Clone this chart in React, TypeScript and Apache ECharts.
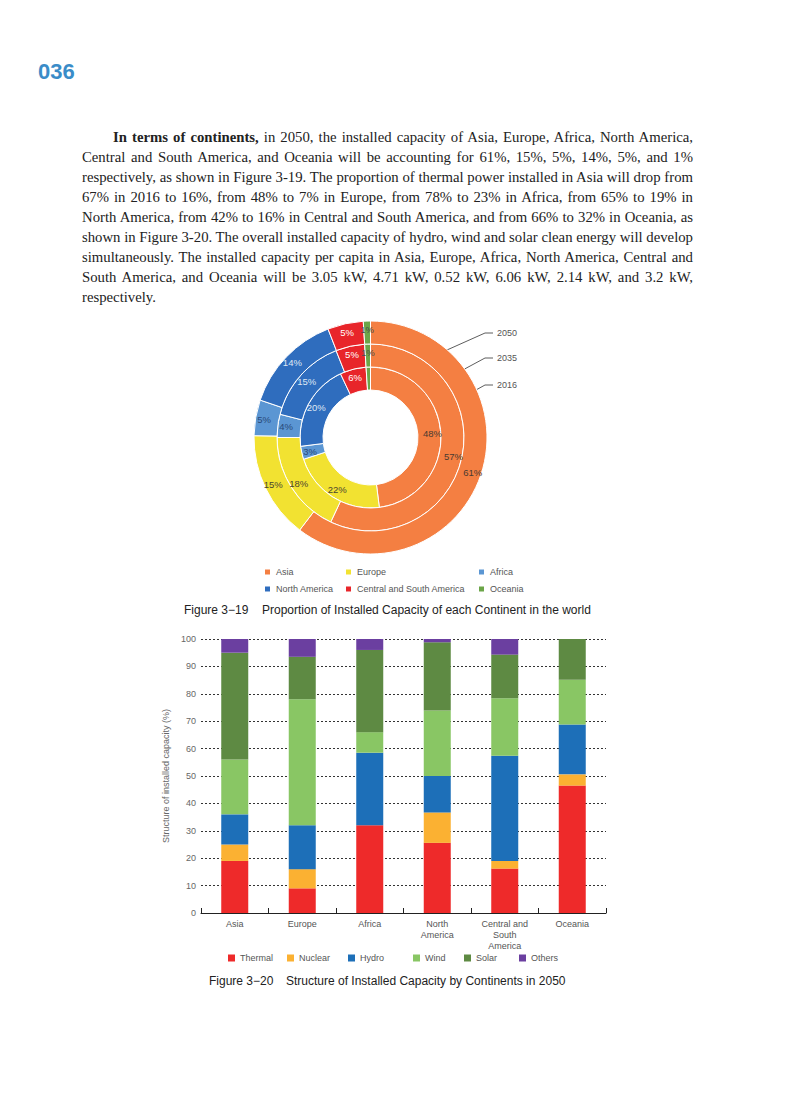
import React, { useEffect, useLayoutEffect, useRef } from "react";
import * as echarts from "echarts";

// ---------- Figure 3-19 data ----------
const continents = ["Asia", "Europe", "Africa", "North America", "Central and South America", "Oceania"];
const continentColors = ["#F47F42", "#F2E231", "#5B96D3", "#2F6DBE", "#E8252A", "#6BA548"];
const continentLabelColors = ["#4a3a30", "#4a4530", "#2a4a78", "#dfe7f4", "#ffffff", "#4a4a4a"];
const share2016 = [48, 22, 3, 20, 6, 1];
const share2035 = [57, 18, 4, 15, 5, 1];
const share2050 = [61, 15, 5, 14, 5, 1];
const ringYears = ["2016", "2035", "2050"];

// ---------- Figure 3-20 data ----------
const barCategories = ["Asia", "Europe", "Africa", "North\nAmerica", "Central and\nSouth\nAmerica", "Oceania"];
const sourceNames = ["Thermal", "Nuclear", "Hydro", "Wind", "Solar", "Others"];
const sourceColors = ["#EE2A2A", "#FBB132", "#1D6FB8", "#89C664", "#5E8A43", "#6B3FA0"];
const thermal = [19, 9, 32, 25.6, 16.2, 46.5];
const nuclear = [6, 7, 0, 11.1, 2.8, 4.1];
const hydro = [11, 16, 26.5, 13.3, 38.4, 18.2];
const wind = [20, 46, 7.5, 23.9, 21, 16.3];
const solar = [39, 15.5, 30, 24.9, 15.9, 14.9];
const others = [5, 6.5, 4, 1.2, 5.7, 0];
const yMin = 0;
const yMax = 100;
const yStep = 10;

// ---------- text ----------
const paragraphLines = [
  " in 2050, the installed capacity of Asia, Europe, Africa, North America,",
  "Central and South America, and Oceania will be accounting for 61%, 15%, 5%, 14%, 5%, and 1%",
  "respectively, as shown in Figure 3-19. The proportion of thermal power installed in Asia will drop from",
  "67% in 2016 to 16%, from 48% to 7% in Europe, from 78% to 23% in Africa, from 65% to 19% in",
  "North America, from 42% to 16% in Central and South America, and from 66% to 32% in Oceania, as",
  "shown in Figure 3-20. The overall installed capacity of hydro, wind and solar clean energy will develop",
  "simultaneously. The installed capacity per capita in Asia, Europe, Africa, North America, Central and",
  "South America, and Oceania will be 3.05 kW, 4.71 kW, 0.52 kW, 6.06 kW, 2.14 kW, and 3.2 kW,",
  "respectively.",
];
const leadBold = "In terms of continents,";

const FONT = "'Liberation Sans', Arial, sans-serif";
const CHART_TOP = 310;

const donutCenter = [370.5, 127.5];
const ringRadii = [
  [47.5, 70.5],
  [70.5, 93.5],
  [93.5, 116.5],
];

function pieSeries(values: number[], radius: number[]) {
  return {
    type: "pie",
    radius,
    center: donutCenter,
    startAngle: 90,
    clockwise: true,
    avoidLabelOverlap: false,
    silent: true,
    label: {
      show: true,
      position: "inside",
      formatter: "{c}%",
      fontSize: 9.5,
      fontFamily: FONT,
    },
    labelLine: { show: false },
    itemStyle: { borderColor: "#ffffff", borderWidth: 1 },
    data: continents.map((name, i) => ({
      name,
      value: values[i],
      itemStyle: { color: continentColors[i] },
      label: { color: continentLabelColors[i] },
    })),
  };
}

function buildOption() {
  const donutLegendPos = [
    [263, 257.5],
    [344, 257.5],
    [477, 257.5],
    [263, 274.5],
    [344, 274.5],
    [477, 274.5],
  ];
  const barLegendX = [228, 287, 348, 413, 464, 519];
  const legendBase = {
    orient: "horizontal",
    padding: 0,
    itemWidth: 7,
    itemHeight: 7,
    icon: "rect",
    selectedMode: false,
    textStyle: { fontSize: 9, color: "#555", fontFamily: FONT },
  };
  const legends: any[] = [];
  continents.forEach((name, i) => {
    legends.push({ ...legendBase, data: [name], left: donutLegendPos[i][0], top: donutLegendPos[i][1] });
  });
  sourceNames.forEach((name, i) => {
    legends.push({ ...legendBase, data: [name], left: barLegendX[i], top: 643.5 });
  });

  const seriesValues = [thermal, nuclear, hydro, wind, solar, others];
  const barSeries = sourceNames.map((name, i) => ({
    type: "bar",
    name,
    stack: "total",
    barWidth: 27,
    silent: true,
    itemStyle: { color: sourceColors[i] },
    data: seriesValues[i],
  }));

  const leaderYs = [75, 48, 23];
  const leaderEnds = [
    [427, 107],
    [433, 76],
    [438, 44],
  ];
  const graphics: any[] = [];
  ringYears.forEach((yr, i) => {
    graphics.push({
      type: "polyline",
      silent: true,
      shape: { points: [[493, leaderYs[i]], [485, leaderYs[i]], leaderEnds[i]] },
      style: { stroke: "#333", lineWidth: 0.8, fill: null },
    });
    graphics.push({
      type: "text",
      silent: true,
      style: {
        text: yr,
        x: 497,
        y: leaderYs[i],
        fontSize: 9,
        fontFamily: FONT,
        fill: "#555",
        verticalAlign: "middle",
      },
    });
  });
  graphics.push(
    {
      type: "text",
      style: { text: "Figure 3\u221219", x: 184, y: 300, fontSize: 12, fontFamily: FONT, fill: "#222", verticalAlign: "middle" },
    },
    {
      type: "text",
      style: {
        text: "Proportion of Installed Capacity of each Continent in the world",
        x: 262,
        y: 300,
        fontSize: 12,
        fontFamily: FONT,
        fill: "#222",
        verticalAlign: "middle",
      },
    },
    {
      type: "text",
      style: { text: "Figure 3\u221220", x: 209, y: 671, fontSize: 12, fontFamily: FONT, fill: "#222", verticalAlign: "middle" },
    },
    {
      type: "text",
      style: {
        text: "Structure of Installed Capacity by Continents in 2050",
        x: 286,
        y: 671,
        fontSize: 12,
        fontFamily: FONT,
        fill: "#222",
        verticalAlign: "middle",
      },
    }
  );

  return {
    animation: false,
    legend: legends,
    grid: { left: 201, top: 329, width: 405, height: 274 },
    xAxis: {
      type: "category",
      data: barCategories,
      boundaryGap: true,
      axisLine: { show: true, lineStyle: { color: "#222", width: 1 } },
      axisTick: { show: true, inside: true, length: 5, lineStyle: { color: "#222" } },
      axisLabel: { interval: 0, color: "#555", fontSize: 9, lineHeight: 11, margin: 5, fontFamily: FONT },
    },
    yAxis: {
      type: "value",
      min: yMin,
      max: yMax,
      interval: yStep,
      name: "Structure of installed capacity (%)",
      nameLocation: "middle",
      nameGap: 29,
      nameRotate: 90,
      nameTextStyle: { color: "#666", fontSize: 9, fontFamily: FONT },
      axisLine: { show: false },
      axisTick: { show: false },
      axisLabel: { color: "#666", fontSize: 9, margin: 5, fontFamily: FONT },
      splitLine: { show: true, lineStyle: { color: "#333", width: 1, type: [2, 2] } },
    },
    series: [
      pieSeries(share2016, ringRadii[0]),
      pieSeries(share2035, ringRadii[1]),
      pieSeries(share2050, ringRadii[2]),
      ...barSeries,
    ],
    graphic: graphics,
  };
}

export default function App() {
  const chartRef = useRef<HTMLDivElement>(null);
  const lineRefs = useRef<(HTMLSpanElement | null)[]>([]);

  useLayoutEffect(() => {
    const els = lineRefs.current;
    const targets = paragraphLines.map((_, i) => (i === 0 ? 580 : 611));
    const widths = els.map((el) => (el ? el.getBoundingClientRect().width : 0));
    let s = 1;
    for (let i = 0; i < paragraphLines.length - 1; i++) {
      if (widths[i] > 0) s = Math.min(s, targets[i] / widths[i]);
    }
    els.forEach((el, i) => {
      if (!el) return;
      el.style.transformOrigin = "0 50%";
      el.style.transform = `scaleX(${s})`;
      if (i < paragraphLines.length - 1) {
        const txt = el.textContent || "";
        const spaces = txt.split(" ").length - 1;
        const extra = (targets[i] / s - widths[i]) / Math.max(1, spaces);
        el.style.wordSpacing = `${extra}px`;
      }
    });
  }, []);

  useEffect(() => {
    if (!chartRef.current) return;
    const chart = echarts.init(chartRef.current, null, { renderer: "svg" });
    chart.setOption(buildOption() as any);
    return () => chart.dispose();
  }, []);

  return (
    <div style={{ position: "absolute", left: 0, top: 0, width: 794, height: 1101, background: "#fff", overflow: "hidden" }}>
      <div
        style={{
          position: "absolute",
          left: 38,
          top: 59,
          lineHeight: "26px",
          fontSize: 22,
          fontWeight: "bold",
          fontFamily: FONT,
          color: "#3A8CC8",
        }}
      >
        036
      </div>
      {paragraphLines.map((line, i) => (
        <div
          key={i}
          style={{
            position: "absolute",
            left: i === 0 ? 113 : 82,
            top: 127 + i * 20,
            height: 20,
            lineHeight: "20px",
            whiteSpace: "nowrap",
            fontFamily: "'Liberation Serif', 'Times New Roman', serif",
            fontSize: 15,
            color: "#222",
          }}
        >
          <span ref={(el) => { lineRefs.current[i] = el; }} style={{ display: "inline-block", whiteSpace: "pre" }}>
            {i === 0 ? <b>{leadBold}</b> : null}
            {line}
          </span>
        </div>
      ))}
      <div ref={chartRef} style={{ position: "absolute", left: 0, top: CHART_TOP, width: 794, height: 700 }} />
    </div>
  );
}
